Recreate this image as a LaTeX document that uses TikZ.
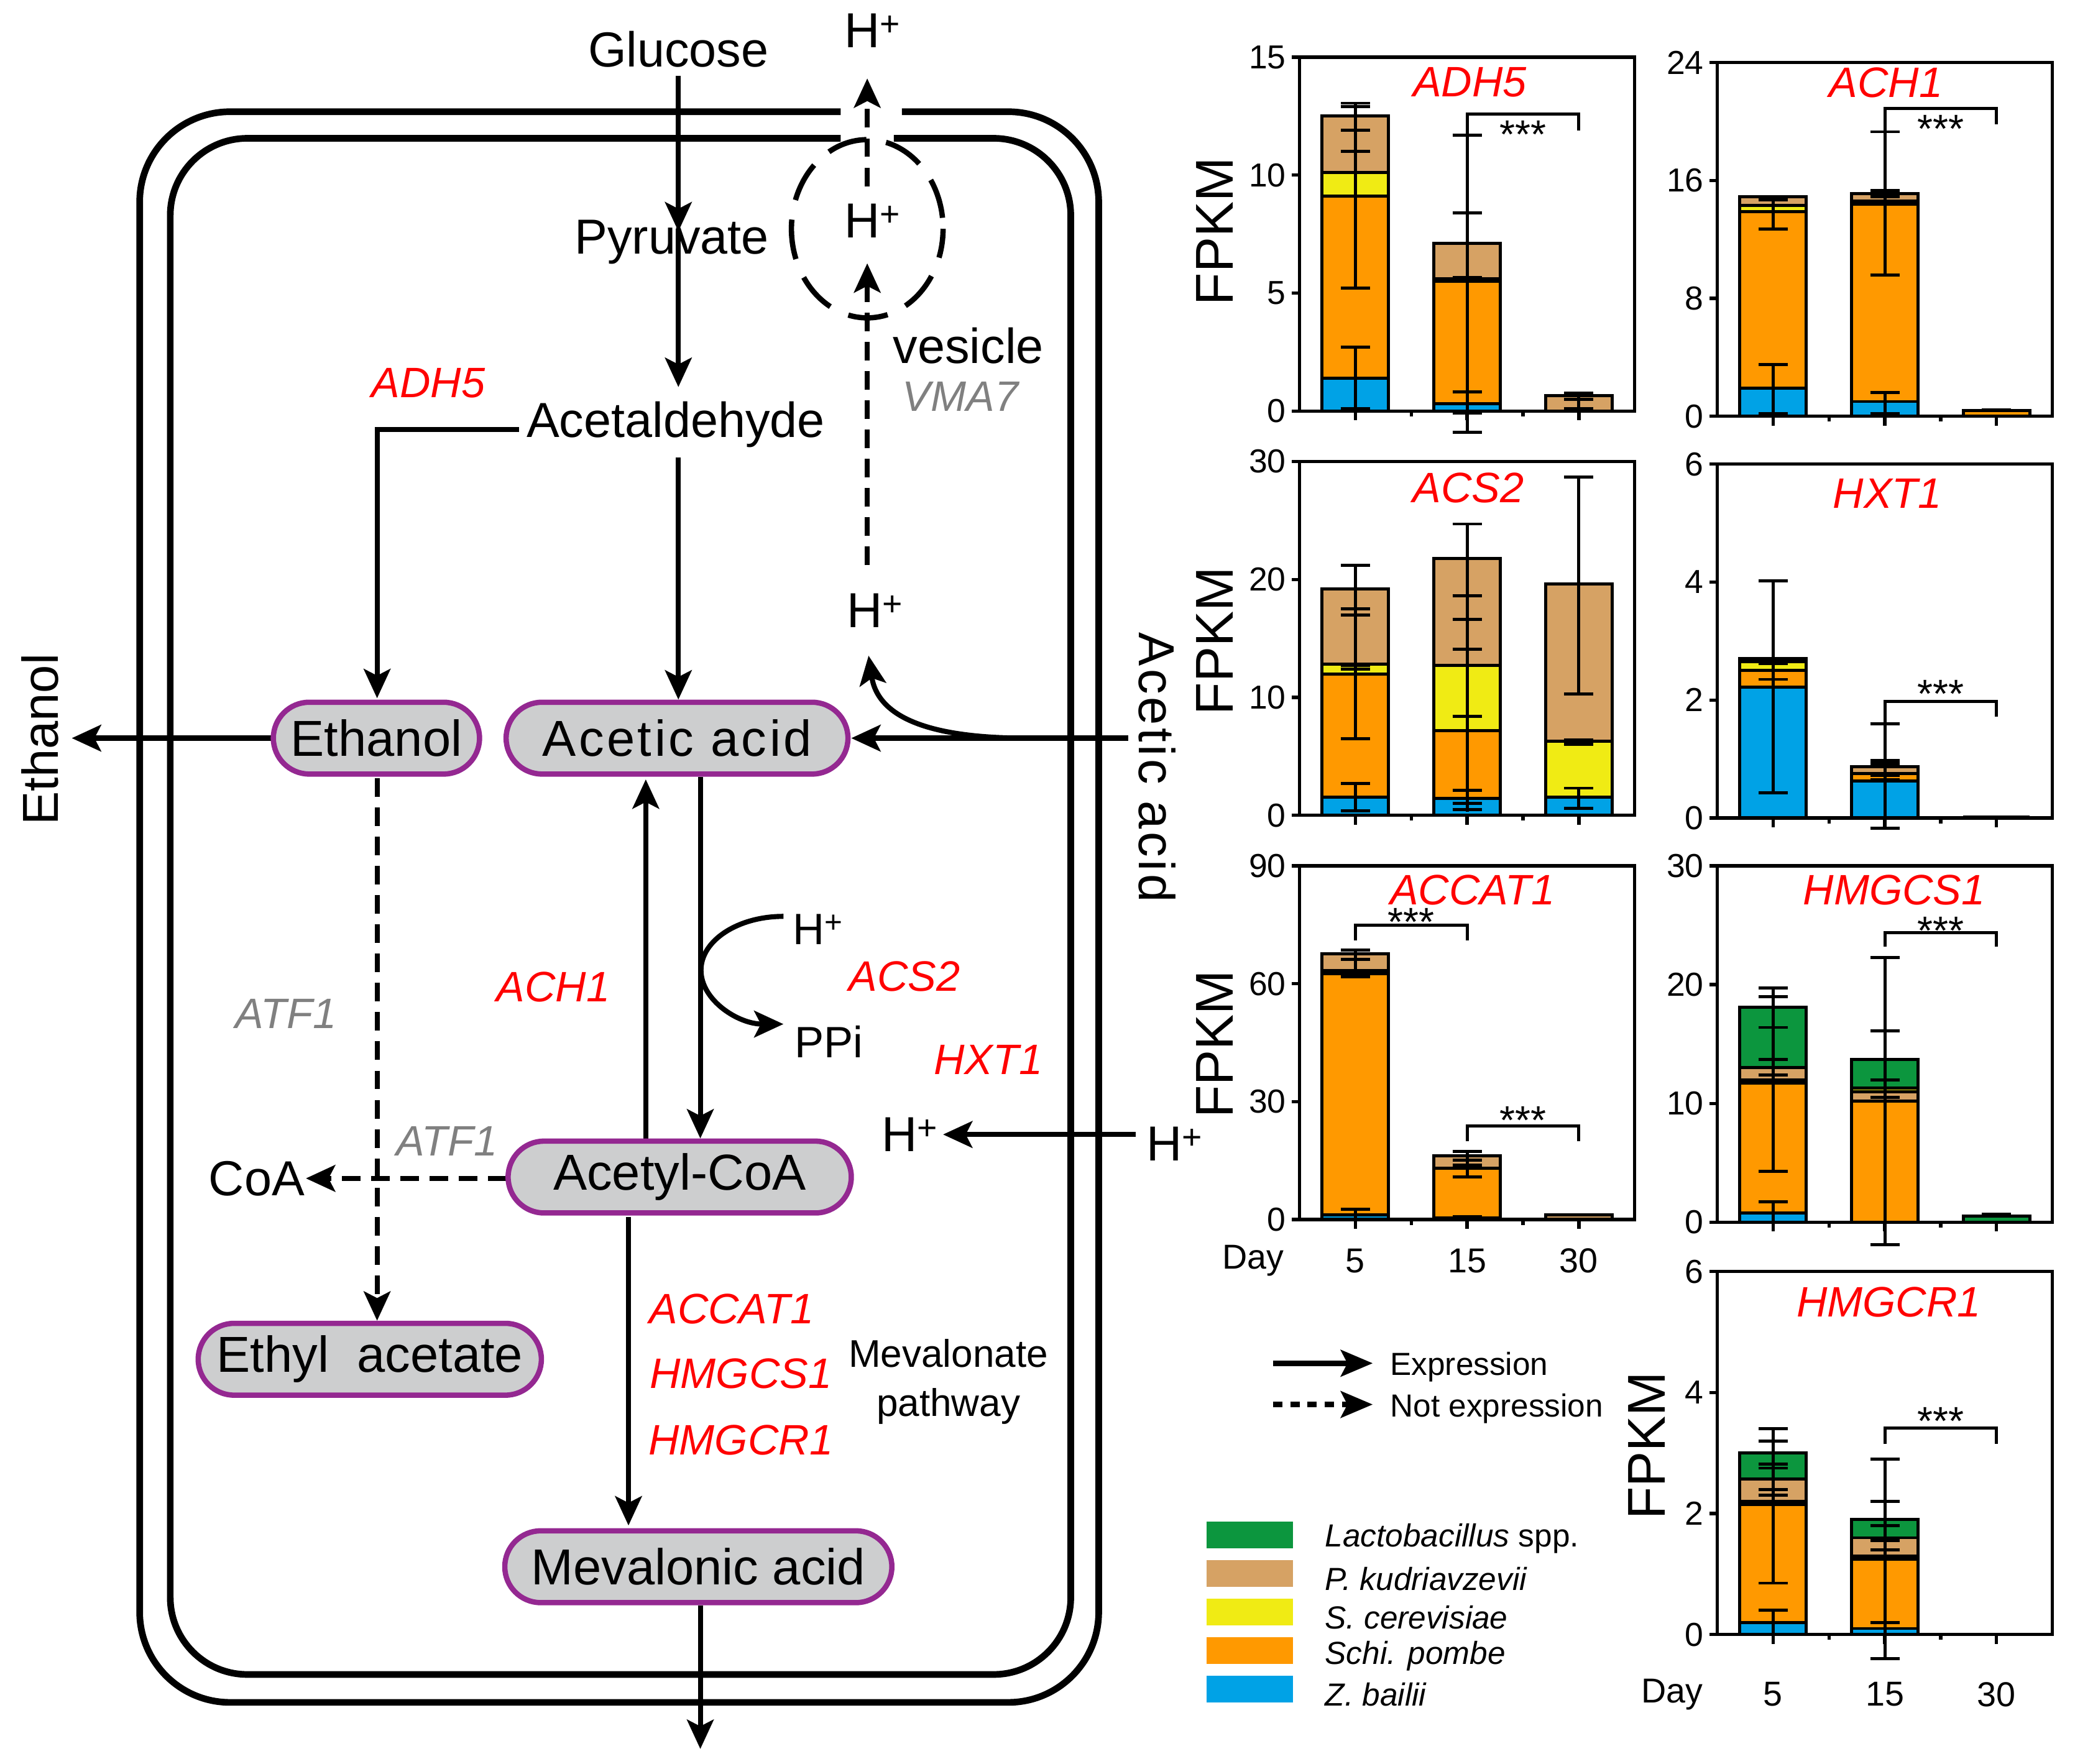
\documentclass[tikz,border=0pt]{standalone}
\usepackage{fontspec}
\setmainfont{Liberation Sans}
\usetikzlibrary{arrows.meta}
\definecolor{cgreen}{RGB}{12,150,62}
\definecolor{ctan}{RGB}{214,162,100}
\definecolor{cyel}{RGB}{240,235,20}
\definecolor{corange}{RGB}{255,153,0}
\definecolor{cblue}{RGB}{0,162,230}
\definecolor{cred}{RGB}{255,0,0}
\definecolor{cgray}{RGB}{128,128,128}
\definecolor{nodefill}{RGB}{205,206,207}
\definecolor{nodeborder}{RGB}{148,40,145}
\newcommand\barseg[4]{\filldraw[barst,fill=#1] ({#2-25},#3) rectangle ({#2+25},#4);}
\newcommand\eline[3]{\draw[eb] (#1,#2) -- (#1,#3);}
\newcommand\ecaps[2]{\foreach \q in {#2}{\draw[eb] ({#1-11},\q) -- ({#1+11},\q);}}
\newcommand\frameax[2]{%
  \draw[ax] (0,0) rectangle (252,#1);
  \foreach \t in {#2}{\draw[ax] (0,\t) -- ++(-6pt,0pt) node[left,ticklbl]{\t};}
  \foreach \c in {42,126,210}{\draw[ax] (\c,0) -- ++(0pt,-7pt);}
  \foreach \c in {84,168}{\draw[ax] (\c,0) -- ++(0pt,-4pt);}
}
\newcommand\sigbr[5]{\draw[eb] (#1,#2) -- (#1,#3) -- (#4,#3) -- (#4,#5);}
\begin{document}
\begin{tikzpicture}[x=1pt,y=-1pt,
  mem/.style={line width=5pt},
  arr/.style={line width=3.8pt,-{Stealth[length=22pt,width=20pt,inset=5pt]}},
  darr/.style={arr,dash pattern=on 14pt off 8pt},
  pill/.style={draw=nodeborder,fill=nodefill,line width=4pt,rounded corners=27pt,minimum height=54pt,inner sep=0pt,font=\fontsize{38}{40}\selectfont},
  lbl/.style={font=\fontsize{37}{40}\selectfont,inner sep=0pt},
  gene/.style={font=\fontsize{32}{34}\selectfont\itshape,text=cred,inner sep=0pt},
  ggene/.style={gene,text=cgray},
  ticklbl/.style={font=\fontsize{25}{27}\selectfont,inner sep=3pt},
  ttl/.style={font=\fontsize{32}{34}\selectfont\itshape,text=cred,inner sep=0pt},
  ax/.style={line width=2.5pt},
  barst/.style={draw=black,line width=2.3pt},
  eb/.style={line width=2.3pt},
  stars/.style={font=\fontsize{30}{32}\selectfont,inner sep=0pt,anchor=base},
  fpkm/.style={font=\fontsize{40}{42}\selectfont,inner sep=0pt,rotate=90},
  leg/.style={font=\fontsize{24}{26}\selectfont,inner sep=0pt,anchor=west}
]
\useasboundingbox (0,0) rectangle (1560,1326.3);

% ---------------- membranes ----------------
\draw[mem,rounded corners=68pt] (632,84) -- (105,84) -- (105,1280) -- (826,1280) -- (826,84) -- (678,84);
\draw[mem,rounded corners=58pt] (632,104) -- (128,104) -- (128,1259) -- (805,1259) -- (805,104) -- (672,104);
% vesicle
\draw[line width=4pt,dash pattern=on 30pt off 15pt,dash phase=8pt] (652,172) ellipse [x radius=57,y radius=67];

% ---------------- text nodes ----------------
\node[lbl] (glu) at (510,37) {Glucose};
\node[lbl] (pyr) at (505,182) {Pyruvate};
\node[lbl] (ald) at (508,319) {Acetaldehyde};
\node[lbl] (hout) at (656,23) {H\textsuperscript{+}};
\node[lbl] (hves) at (656,166) {H\textsuperscript{+}};
\node[lbl] (hmid) at (658,459) {H\textsuperscript{+}};
\node[lbl,font=\fontsize{33}{35}\selectfont] (hacs) at (615,699) {H\textsuperscript{+}};
\node[lbl,font=\fontsize{33}{35}\selectfont] (ppi) at (623,783) {PPi};
\node[lbl] (hin) at (684,853) {H\textsuperscript{+}};
\node[lbl] (hext) at (883,860) {H\textsuperscript{+}};
\node[lbl] (coa) at (193,886) {CoA};
\node[lbl] (ves) at (728,260) {vesicle};
\node[ggene] (vma) at (722,298) {VMA7};
\node[gene] (adh) at (322,288) {ADH5};
\node[gene] (ach) at (416,742) {ACH1};
\node[gene] (acs) at (680,734) {ACS2};
\node[gene] (hxt) at (743,797) {HXT1};
\node[ggene] (atfa) at (215,762) {ATF1};
\node[ggene] (atfb) at (336,858) {ATF1};
\node[gene] (accat) at (550,984) {ACCAT1};
\node[gene] (hmgcs) at (557,1033) {HMGCS1};
\node[gene] (hmgcr) at (557,1083) {HMGCR1};
\node[align=center,font=\fontsize{29}{37}\selectfont,inner sep=0pt] (mevp) at (713,1039) {Mevalonate\\pathway};
\node[lbl,rotate=90,font=\fontsize{38}{40}\selectfont] (ethout) at (30,556) {Ethanol};
\node[lbl,rotate=-90,font=\fontsize{38}{40}\selectfont\addfontfeatures{LetterSpace=5.5}] (aaout) at (870,577) {Acetic acid};

% ---------------- pathway arrows ----------------
\draw[arr] (510,57) -- (510,174);
\draw[arr] (510,172) -- (510,291);
\draw[arr] (390,323) -- (283.5,323) -- (283.5,525);
\draw[arr] (510,344) -- (510,526);
\draw[arr] (205,555) -- (54,555);
\draw[arr] (848,555) -- (640,555);
\draw[arr] (772,555) .. controls (700,555) and (660,540) .. (653,493);
\draw[darr] (652,425) -- (652,198);
\draw[darr] (652,140) -- (652,59);
\draw[arr] (485.5,856) -- (485.5,586);
\draw[arr] (526.5,584) -- (526.5,856);
\draw[arr] (589,689) arc[start angle=270,end angle=90,x radius=62,y radius=40.5];
\draw[arr] (854,853) -- (709,853);
\draw[darr] (381,886) -- (230,886);
\draw[darr] (283.5,585) -- (283.5,993);
\draw[arr] (472.5,915) -- (472.5,1147);
\draw[arr] (526.5,1207) -- (526.5,1315);

% ---------------- pill nodes ----------------
\node[pill,minimum width=155pt] (eth) at (283,555) {Ethanol};
\node[pill,minimum width=257pt,font=\fontsize{38}{40}\selectfont\addfontfeatures{LetterSpace=5.5}] (aa) at (509,555) {Acetic acid};
\node[pill,minimum width=258pt] (acoa) at (511,885) {Acetyl-CoA};
\node[pill,minimum width=258pt] (ea) at (278,1022) {Ethyl~ acetate};
\node[pill,minimum width=291pt] (mev) at (525,1178) {Mevalonic acid};

% ---------------- charts ----------------
% ADH5
\begin{scope}[shift={(977,309)},y=17.733pt]
\barseg{cblue}{42}{0}{1.4}\barseg{corange}{42}{1.4}{9.1}\barseg{cyel}{42}{9.1}{10.1}\barseg{ctan}{42}{10.1}{12.5}
\eline{42}{0.1}{2.7}\ecaps{42}{0.1,2.7}
\eline{42}{5.2}{13.05}\ecaps{42}{5.2,11.0,11.9,12.9,13.05}
\barseg{cblue}{126}{0}{0.3}\barseg{corange}{126}{0.3}{5.5}\barseg{cyel}{126}{5.5}{5.6}\barseg{ctan}{126}{5.6}{7.1}
\eline{126}{-0.9}{11.7}\ecaps{126}{-0.9,-0.1,0.8,5.5,5.65,8.4,11.7}
\barseg{ctan}{210}{0}{0.65}
\eline{210}{0.05}{0.75}\ecaps{210}{0.1,0.5,0.75}
\sigbr{126}{11.7}{12.6}{210}{11.9}
\node[stars] at (168,12.6) [yshift=-26pt] {***};
\frameax{15}{0,5,10,15}
\end{scope}
% ACH1
\begin{scope}[shift={(1291,313)},y=11.083pt]
\barseg{cblue}{42}{0}{1.9}\barseg{corange}{42}{1.9}{13.9}\barseg{cyel}{42}{13.9}{14.3}\barseg{ctan}{42}{14.3}{14.9}
\eline{42}{0.2}{3.5}\ecaps{42}{0.2,3.5}
\eline{42}{12.7}{14.9}\ecaps{42}{12.7,14.7,14.9}
\barseg{cblue}{126}{0}{1.0}\barseg{corange}{126}{1.0}{14.4}\barseg{cyel}{126}{14.4}{14.6}\barseg{ctan}{126}{14.6}{15.1}
\eline{126}{0.2}{1.6}\ecaps{126}{0.2,1.6}
\eline{126}{9.6}{19.3}\ecaps{126}{9.6,14.9,15.3,19.3}
\barseg{corange}{210}{0}{0.4}
\ecaps{210}{0.45}
\sigbr{126}{19.3}{20.9}{210}{19.8}
\node[stars] at (168,20.9) [yshift=-26pt] {***};
\frameax{24}{0,8,16,24}
\end{scope}
% ACS2
\begin{scope}[shift={(977,613)},y=8.867pt]
\barseg{cblue}{42}{0}{1.55}\barseg{corange}{42}{1.55}{11.95}\barseg{cyel}{42}{11.95}{12.8}\barseg{ctan}{42}{12.8}{19.2}
\eline{42}{0.4}{2.7}\ecaps{42}{0.4,2.7}
\eline{42}{6.5}{21.2}\ecaps{42}{6.5,12.4,12.7,17.0,17.5,21.2}
\barseg{cblue}{126}{0}{1.45}\barseg{corange}{126}{1.45}{7.2}\barseg{cyel}{126}{7.2}{12.7}\barseg{ctan}{126}{12.7}{21.8}
\eline{126}{0.3}{24.7}\ecaps{126}{0.5,1.0,2.1,8.4,14.1,16.6,18.6,24.7}
\barseg{cblue}{210}{0}{1.55}\barseg{cyel}{210}{1.55}{6.3}\barseg{ctan}{210}{6.3}{19.6}
\eline{210}{0.6}{2.3}\ecaps{210}{0.6,2.3}
\eline{210}{6.0}{6.4}\ecaps{210}{6.0,6.4}
\eline{210}{10.3}{28.7}\ecaps{210}{10.3,28.7}
\frameax{30}{0,10,20,30}
\end{scope}
% HXT1
\begin{scope}[shift={(1291,615)},y=44.333pt]
\barseg{cblue}{42}{0}{2.22}\barseg{corange}{42}{2.22}{2.5}\barseg{cyel}{42}{2.5}{2.65}\barseg{ctan}{42}{2.65}{2.7}
\eline{42}{0.43}{4.02}\ecaps{42}{0.43,2.35,2.62,2.67,4.02}
\barseg{cblue}{126}{0}{0.63}\barseg{corange}{126}{0.63}{0.75}\barseg{ctan}{126}{0.75}{0.87}
\eline{126}{-0.17}{1.6}\ecaps{126}{-0.17,0.65,0.72,0.92,0.97,1.6}
\draw[eb] (185,0.015) -- (235,0.015);
\sigbr{126}{1.6}{1.98}{210}{1.72}
\node[stars] at (168,1.98) [yshift=-5pt] {***};
\frameax{6}{0,2,4,6}
\end{scope}
% ACCAT1
\begin{scope}[shift={(977,917)},y=2.9556pt]
\barseg{cblue}{42}{0}{1.2}\barseg{corange}{42}{1.2}{62.5}\barseg{cyel}{42}{62.5}{63.3}\barseg{ctan}{42}{63.3}{67.6}
\eline{42}{-0.5}{2.6}\ecaps{42}{2.6}
\eline{42}{61.8}{68.5}\ecaps{42}{61.8,62.6,63.3,66.2,68.5}
\barseg{cblue}{126}{0}{0.4}\barseg{corange}{126}{0.4}{13.0}\barseg{ctan}{126}{13.0}{16.3}
\ecaps{126}{0.8}
\eline{126}{10.8}{17.3}\ecaps{126}{10.8,13.9,15.1,17.3}
\barseg{ctan}{210}{0}{1.2}
\sigbr{42}{71}{74.9}{126}{71}
\node[stars] at (84,74.9) [yshift=-8pt] {***};
\sigbr{126}{20}{23.8}{210}{20}
\node[stars] at (168,23.8) [yshift=-6pt] {***};
\frameax{90}{0,30,60,90}
\end{scope}
% HMGCS1
\begin{scope}[shift={(1291,919)},y=8.933pt]
\barseg{cblue}{42}{0}{0.8}\barseg{corange}{42}{0.8}{11.7}\barseg{cyel}{42}{11.7}{12.0}\barseg{ctan}{42}{12.0}{13.0}\barseg{cgreen}{42}{13.0}{18.1}
\eline{42}{-0.5}{1.7}\ecaps{42}{1.7}
\eline{42}{4.3}{19.7}\ecaps{42}{4.3,11.9,12.4,13.7,16.4,19.0,19.7}
\barseg{corange}{126}{0}{10.2}\barseg{ctan}{126}{10.2}{11.0}\barseg{cyel}{126}{11.0}{11.3}\barseg{cgreen}{126}{11.3}{13.7}
\eline{126}{-1.9}{22.3}\ecaps{126}{-1.9,0,10.5,12.0,16.1,22.3}
\barseg{cgreen}{210}{0}{0.5}
\ecaps{210}{0.7}
\sigbr{126}{23.2}{24.4}{210}{23.2}
\node[stars] at (168,24.4) [yshift=-9pt] {***};
\frameax{30}{0,10,20,30}
\end{scope}
% HMGCR1
\begin{scope}[shift={(1291,1229)},y=45.5pt]
\barseg{cblue}{42}{0}{0.2}\barseg{corange}{42}{0.2}{2.15}\barseg{cyel}{42}{2.15}{2.2}\barseg{ctan}{42}{2.2}{2.57}\barseg{cgreen}{42}{2.57}{3.0}
\eline{42}{-0.05}{0.4}\ecaps{42}{0.4}
\eline{42}{0.85}{3.4}\ecaps{42}{0.85,2.3,2.4,2.75,2.82,3.2,3.4}
\barseg{cblue}{126}{0}{0.1}\barseg{corange}{126}{0.1}{1.25}\barseg{cyel}{126}{1.25}{1.3}\barseg{ctan}{126}{1.3}{1.6}\barseg{cgreen}{126}{1.6}{1.9}
\eline{126}{-0.4}{2.9}\ecaps{126}{-0.4,0.2,1.25,1.4,1.55,1.8,2.2,2.9}
\draw[eb] (185,0.008) -- (235,0.008);
\sigbr{126}{3.15}{3.41}{210}{3.15}
\node[stars] at (168,3.41) [yshift=-5pt] {***};
\frameax{6}{0,2,4,6}
\end{scope}

% chart titles
\node[ttl] (t1) at (1105,62) {ADH5};
\node[ttl] (t2) at (1418,62) {ACH1};
\node[ttl] (t3) at (1104,367) {ACS2};
\node[ttl] (t4) at (1419,371) {HXT1};
\node[ttl] (t5) at (1107,669) {ACCAT1};
\node[ttl] (t6) at (1424,669) {HMGCS1};
\node[ttl] (t7) at (1420,979) {HMGCR1};
% FPKM labels
\node[fpkm] (f1) at (913,174) {FPKM};
\node[fpkm] (f2) at (913,482) {FPKM};
\node[fpkm] (f3) at (913,785) {FPKM};
\node[fpkm] (f4) at (1238,1087) {FPKM};
% Day labels
\node[ticklbl,font=\fontsize{26}{28}\selectfont] (d0) at (942,948) {Day};
\node[ticklbl,font=\fontsize{26}{28}\selectfont] (d1) at (1019,948) {5};
\node[ticklbl,font=\fontsize{26}{28}\selectfont] (d2) at (1103,948) {15};
\node[ticklbl,font=\fontsize{26}{28}\selectfont] (d3) at (1187,948) {30};
\node[ticklbl,font=\fontsize{26}{28}\selectfont] (e0) at (1257,1274) {Day};
\node[ticklbl,font=\fontsize{26}{28}\selectfont] (e1) at (1333,1274) {5};
\node[ticklbl,font=\fontsize{26}{28}\selectfont] (e2) at (1417,1274) {15};
\node[ticklbl,font=\fontsize{26}{28}\selectfont] (e3) at (1501,1274) {30};

% legend arrows
\coordinate (la1) at (957,1025); \coordinate (la2) at (1032,1025);
\coordinate (lb1) at (957,1056); \coordinate (lb2) at (1032,1056);
\draw[line width=4pt,-{Stealth[length=24pt,width=20pt,inset=5pt]}] (la1) -- (la2);
\draw[line width=4pt,dash pattern=on 7pt off 6pt,-{Stealth[length=24pt,width=20pt,inset=5pt]}] (lb1) -- (lb2);
\node[leg] (lx1) at (1045,1028) {Expression};
\node[leg] (lx2) at (1045,1059) {Not expression};
% legend swatches
\fill[cgreen] (907,1144) rectangle (972,1164);
\fill[ctan] (907,1173) rectangle (972,1193);
\fill[cyel] (907,1202) rectangle (972,1222);
\fill[corange] (907,1231) rectangle (972,1251);
\fill[cblue] (907,1260) rectangle (972,1280);
\node[leg] (s1) at (996,1157) {\textit{Lactobacillus} spp.};
\node[leg] (s2) at (996,1187) {\textit{P. kudriavzevii}};
\node[leg] (s3) at (996,1216) {\textit{S. cerevisiae}};
\node[leg] (s4) at (996,1245) {\textit{Schi. pombe}};
\node[leg] (s5) at (996,1274) {\textit{Z. bailii}};
\end{tikzpicture}
\end{document}
